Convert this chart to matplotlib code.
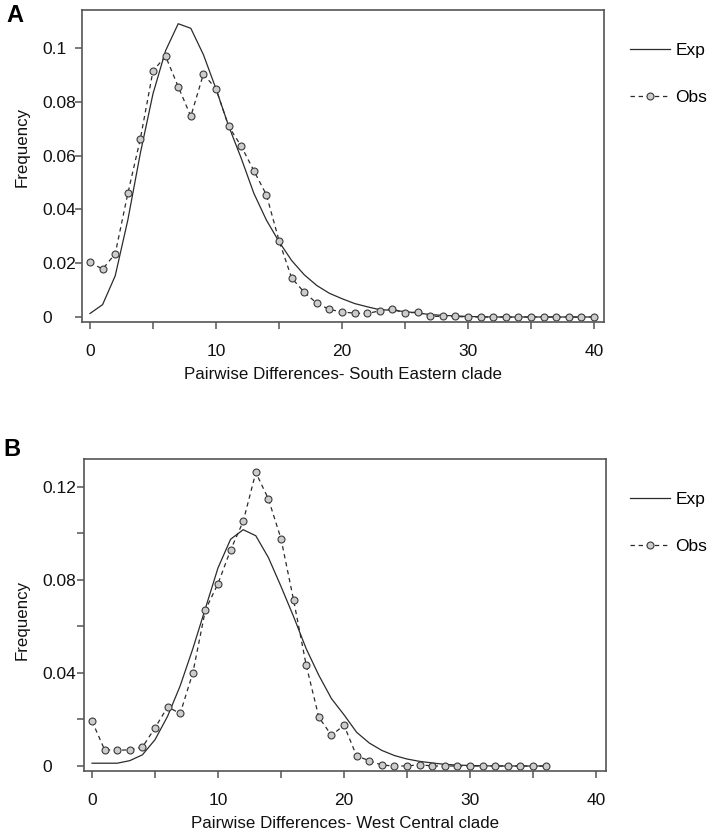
import numpy as np
import matplotlib.pyplot as plt

# Fuente tipo Arial
plt.rcParams['font.family'] = ['Liberation Sans', 'DejaVu Sans']

# Datos panel A - South Eastern clade
x_a = np.arange(41)
obs_a = [0.0203, 0.0178, 0.0235, 0.0459, 0.0663, 0.0915, 0.0969, 0.0856, 0.0746, 0.0903,
         0.0848, 0.0709, 0.0635, 0.0544, 0.0454, 0.0284, 0.0145, 0.0092, 0.0051, 0.0028,
         0.0019, 0.0014, 0.0013, 0.0023, 0.0031, 0.0013, 0.0019, 0.0003, 0.0002, 0.0002,
         0.0, 0.0, 0.0, 0.0, 0.0, 0.0, 0.0, 0.0, 0.0, 0.0, 0.0]
exp_a = [0.0013, 0.0046, 0.0153, 0.0360, 0.0610, 0.0830, 0.0990, 0.1090, 0.1073, 0.0975,
         0.0848, 0.0710, 0.0590, 0.0460, 0.0360, 0.0280, 0.0210, 0.0157, 0.0117, 0.0088,
         0.0068, 0.0050, 0.0038, 0.0027, 0.0025, 0.0020, 0.0015, 0.0009, 0.0006, 0.0004,
         0.0002, 0.0001, 0.0, 0.0, 0.0, 0.0, 0.0, 0.0, 0.0, 0.0, 0.0]

# Datos panel B - West Central clade
x_b = np.arange(37)
obs_b = [0.0193, 0.0070, 0.0067, 0.0070, 0.0081, 0.0164, 0.0254, 0.0226, 0.0400, 0.0671,
         0.0784, 0.0929, 0.1052, 0.1262, 0.1148, 0.0977, 0.0713, 0.0433, 0.0210, 0.0132,
         0.0175, 0.0043, 0.0023, 0.0004, 0.0, 0.0, 0.0006, 0.0, 0.0, 0.0,
         0.0, 0.0, 0.0, 0.0, 0.0, 0.0, 0.0]
exp_b = [0.0012, 0.0012, 0.0012, 0.0023, 0.0048, 0.0113, 0.0214, 0.0345, 0.0504, 0.0678,
         0.0852, 0.0975, 0.1016, 0.0990, 0.0896, 0.0772, 0.0642, 0.0504, 0.0390, 0.0290,
         0.0220, 0.0145, 0.0099, 0.0067, 0.0045, 0.0030, 0.0020, 0.0013, 0.0007, 0.0004,
         0.0002, 0.0001, 0.0, 0.0, 0.0, 0.0, 0.0]

W, H = 709, 833
fig = plt.figure(figsize=(W / 100, H / 100), dpi=100)

spine_col = '#555555'
line_col = '#2b2b2b'
fs = 12.5


def draw_panel(left, top, right, bottom, x, obs, exp, ylim, yticks, ylabels, yminor,
               xlabel, letter, letter_xy, ylab_y):
    ax = fig.add_axes([left / W, 1 - bottom / H, (right - left) / W, (bottom - top) / H])

    # Curvas Exp y Obs
    ax.plot(x, exp, color=line_col, lw=0.9, label='Exp')
    ax.plot(x, obs, color=line_col, lw=0.9, linestyle=(0, (3.5, 3)), marker='o',
            markersize=5, markerfacecolor='#cccccc', markeredgecolor='#3a3a3a',
            markeredgewidth=0.8, label='Obs')

    ax.set_xlim(-0.635, 40.79)
    ax.set_ylim(*ylim)

    # Ejes y ticks
    ax.set_xticks([0, 10, 20, 30, 40])
    ax.set_xticks([5, 15, 25, 35], minor=True)
    ax.set_yticks(yticks)
    ax.set_yticklabels(ylabels)
    ax.set_yticks(yminor, minor=True)
    for s in ax.spines.values():
        s.set_color(spine_col)
        s.set_linewidth(1.2)
    ax.tick_params(which='both', direction='out', length=5, width=1.1, color=spine_col,
                   labelsize=fs, labelcolor='#111111')
    ax.tick_params(axis='x', which='both', pad=11)
    # etiquetas y alineadas a la izquierda (estilo SPSS)
    ax.tick_params(axis='y', which='both', pad=(left - 5 - 44) * 0.72)
    for lbl in ax.get_yticklabels():
        lbl.set_horizontalalignment('left')

    ax.set_xlabel(xlabel, fontsize=12.2, color='#111111')
    ax.xaxis.set_label_coords(0.5, -0.143)
    fig.text(22 / W, 1 - ylab_y / H, 'Frequency', rotation=90, fontsize=12.2,
             ha='center', va='center', color='#111111')

    # Leyenda fuera del área del gráfico
    ax.legend(loc='upper left', bbox_to_anchor=(630 / W, 1 - (top + 33) / H),
              bbox_transform=fig.transFigure, frameon=False, fontsize=fs,
              handlelength=2.3, handletextpad=0.3, labelspacing=1.85,
              borderpad=0, borderaxespad=0, numpoints=1)

    fig.text(letter_xy[0] / W, 1 - letter_xy[1] / H, letter, fontsize=17,
             fontweight='bold', ha='center', va='center')
    return ax


draw_panel(82, 10, 604, 322, x_a, obs_a, exp_a, (-0.00186, 0.1141),
           [0, 0.02, 0.04, 0.06, 0.08, 0.1], ['0', '0.02', '0.04', '0.06', '0.08', '0.1'], [],
           'Pairwise Differences- South Eastern clade', 'A', (14.5, 15.5), 147)

draw_panel(84, 459, 606, 771, x_b, obs_b, exp_b, (-0.00215, 0.1320),
           [0, 0.04, 0.08, 0.12], ['0', '0.04', '0.08', '0.12'], [0.02, 0.06, 0.10],
           'Pairwise Differences- West Central clade', 'B', (11.5, 449.5), 620)

fig.savefig('out.png', dpi=100)
